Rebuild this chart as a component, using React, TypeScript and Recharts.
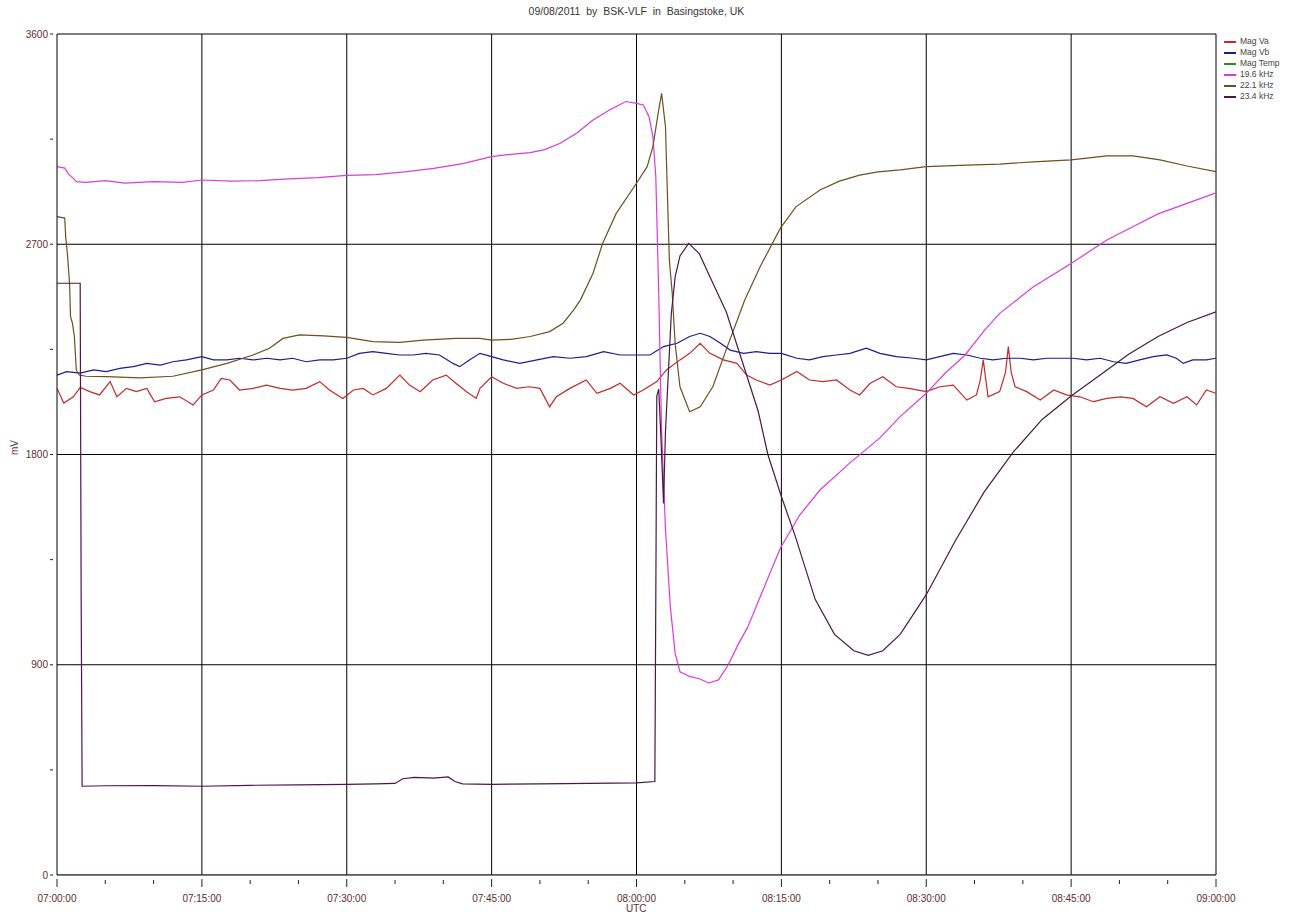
import React from 'react';
import { LineChart, Line, XAxis, YAxis, ReferenceLine } from 'recharts';

type Pt = [number, number];

// minutes after 07:00 UTC, mV
const magVa: Pt[] = [
  [0, 2083], [0.7, 2020], [1.7, 2047], [2.4, 2087], [3.4, 2069], [4.4, 2055], [5.5, 2112], [6.2, 2047],
  [7.2, 2083], [8.2, 2069], [9.3, 2083], [10.1, 2026], [11.3, 2040], [12.7, 2047], [14.1, 2012], [15, 2055],
  [16.2, 2076], [17, 2126], [17.9, 2119], [18.9, 2076], [20.3, 2083], [21.7, 2097], [23.1, 2083], [24.4, 2076],
  [25.8, 2083], [27.2, 2112], [28.2, 2076], [29.6, 2040], [30.7, 2076], [31.7, 2083], [32.7, 2055], [34.1, 2083],
  [35.5, 2140], [36.5, 2097], [37.6, 2069], [38.9, 2119], [40.3, 2140], [41.3, 2105], [42.4, 2069], [43.4, 2040],
  [43.8, 2083], [45, 2133], [46.2, 2105], [47.6, 2083], [48.9, 2090], [50, 2083], [51, 2004], [51.7, 2047],
  [53.1, 2083], [54.8, 2119], [55.9, 2062], [57.3, 2083], [58.3, 2105], [59.7, 2055], [60.7, 2076], [62.1, 2112],
  [63.1, 2162], [64.5, 2205], [65.5, 2233], [66.6, 2276], [67.6, 2233], [69, 2205], [70.4, 2190], [71.4, 2140],
  [72.4, 2119], [73.8, 2097], [75, 2119], [76.6, 2155], [77.9, 2119], [79.3, 2112], [80.7, 2119], [82.1, 2076],
  [83.1, 2055], [84.2, 2105], [85.5, 2133], [86.9, 2090], [88.2, 2083], [90, 2069], [91.4, 2090], [92.8, 2097],
  [94.2, 2033], [95.2, 2055], [95.6, 2120], [95.9, 2205], [96.2, 2110], [96.4, 2047], [97.6, 2069], [98.2, 2150],
  [98.5, 2262], [98.8, 2150], [99.2, 2090], [100.4, 2069], [101.8, 2033], [103.2, 2076], [104.5, 2055], [105.9, 2047],
  [107.3, 2026], [108.7, 2040], [110.1, 2047], [111.4, 2040], [112.8, 2004], [114.2, 2047], [115.6, 2019], [117, 2047],
  [118, 2012], [119, 2076], [120, 2062],
];

const magVb: Pt[] = [
  [0, 2140], [1, 2155], [2.4, 2148], [3.8, 2162], [5.1, 2155], [6.5, 2169], [7.9, 2176], [9.3, 2190],
  [10.7, 2183], [12, 2197], [13.4, 2205], [15, 2219], [16.2, 2205], [17.6, 2205], [18.9, 2212], [20.3, 2205],
  [21.7, 2212], [23.1, 2205], [24.4, 2212], [25.8, 2197], [27.2, 2205], [28.6, 2205], [30, 2212], [31.3, 2233],
  [32.7, 2240], [34.1, 2233], [35.5, 2226], [36.9, 2226], [38.2, 2233], [39.6, 2226], [41, 2190], [41.7, 2176],
  [42.7, 2205], [43.8, 2233], [45, 2219], [46.2, 2205], [47.9, 2190], [49.7, 2205], [51.4, 2219], [53.1, 2212],
  [54.8, 2219], [56.6, 2240], [58.3, 2226], [60, 2226], [61.4, 2226], [62.8, 2262], [64.2, 2276], [65.5, 2305],
  [66.6, 2319], [67.6, 2305], [68.7, 2276], [69.7, 2247], [71.1, 2233], [72.4, 2240], [73.8, 2233], [75, 2233],
  [76.6, 2212], [77.9, 2205], [79.3, 2219], [80.7, 2226], [82.1, 2233], [83.8, 2255], [85.2, 2233], [86.9, 2219],
  [88.7, 2212], [90, 2205], [91.4, 2219], [92.8, 2233], [94.2, 2226], [95.6, 2212], [96.9, 2205], [98.3, 2212],
  [99.7, 2212], [101.1, 2205], [102.5, 2212], [103.9, 2212], [105.2, 2212], [106.6, 2205], [108, 2212], [109.4, 2197],
  [110.7, 2190], [112.1, 2205], [113.5, 2219], [114.9, 2226], [115.9, 2212], [116.6, 2190], [117.6, 2205], [119, 2205],
  [120, 2212],
];

const magTemp: Pt[] = [[0, 0], [120, 0]];

const khz196: Pt[] = [
  [0, 3032], [0.8, 3026], [1.2, 3000], [1.7, 2982], [2, 2968], [3, 2965], [5, 2972], [7, 2962],
  [10, 2968], [13, 2965], [15, 2975], [18, 2970], [21, 2972], [24, 2980], [27, 2985], [30, 2995],
  [33, 2998], [36, 3010], [39, 3025], [42, 3045], [45, 3075], [47, 3085], [49, 3092], [50.5, 3105],
  [52.1, 3132], [53.8, 3175], [55.5, 3232], [57.2, 3275], [58.9, 3311], [60, 3303], [60.7, 3296], [61.3, 3246],
  [61.7, 3161], [62, 2989], [62.3, 2490], [62.6, 1900], [63, 1480], [63.5, 1150], [64, 950], [64.5, 870],
  [65.5, 850], [66.5, 840], [67.5, 822], [68.5, 835], [69.5, 900], [70.5, 985], [71.5, 1060], [72.8, 1190],
  [74.9, 1400], [76.9, 1541], [79, 1648], [82.1, 1764], [85.2, 1871], [87.3, 1962], [90, 2062], [92, 2150],
  [94, 2225], [96, 2330], [97.6, 2404], [101.1, 2518], [105, 2618], [108.7, 2718], [112.1, 2790], [114, 2830],
  [116, 2860], [118, 2890], [120, 2920],
];

const khz221: Pt[] = [
  [0, 2818], [0.8, 2812], [0.9, 2732], [1.1, 2647], [1.3, 2533], [1.4, 2390], [1.6, 2362], [1.8, 2304],
  [2, 2162], [2.3, 2140], [3, 2135], [5.1, 2133], [8.6, 2128], [12, 2135], [15, 2162], [17.6, 2190],
  [20.3, 2226], [22, 2255], [23.4, 2297], [25.1, 2312], [27.6, 2308], [30, 2301], [32.7, 2283], [35.5, 2280],
  [37.9, 2290], [41.3, 2297], [43.8, 2297], [45, 2290], [47, 2293], [49, 2305], [51, 2326], [52.4, 2362],
  [53.5, 2419], [54.2, 2462], [55.5, 2576], [56.5, 2704], [57.9, 2832], [60, 2961], [61.1, 3032], [61.7, 3118],
  [62.3, 3275], [62.6, 3346], [63, 3203], [63.2, 2918], [63.4, 2633], [63.7, 2490], [64, 2276], [64.5, 2090],
  [65.5, 1983], [66.6, 2004], [67.9, 2090], [69.3, 2250], [71.2, 2460], [72.8, 2604], [74.9, 2769], [76.5, 2860],
  [79, 2932], [81, 2970], [83.1, 2996], [85, 3010], [87.3, 3018], [90, 3032], [94.2, 3039], [97.6, 3043],
  [101.1, 3053], [105, 3061], [108.7, 3078], [111.4, 3078], [114.2, 3061], [117, 3035], [120, 3011],
];

const khz234: Pt[] = [
  [0, 2533], [2.4, 2533], [2.5, 1200], [2.6, 380], [5, 382], [10, 383], [15, 380], [20, 384],
  [25, 386], [30, 388], [33, 390], [35, 392], [35.8, 412], [37, 418], [39, 415], [40.5, 420],
  [41.2, 400], [42, 390], [45, 388], [50, 390], [55, 392], [60, 394], [61.9, 400], [62, 1200],
  [62.1, 2050], [62.3, 2080], [62.5, 1900], [62.8, 1590], [63, 1900], [63.3, 2150], [63.6, 2400], [64, 2560],
  [64.5, 2650], [65.4, 2704], [66.5, 2660], [67.6, 2561], [69.3, 2410], [70.7, 2230], [72.6, 1985], [73.6, 1800],
  [75, 1620], [76.4, 1455], [78.5, 1180], [80.5, 1030], [82.5, 960], [84, 940], [85.5, 960], [87.3, 1030],
  [90, 1200], [93, 1430], [96, 1640], [99, 1810], [102, 1950], [105, 2050], [108, 2140], [111, 2230],
  [114, 2305], [117, 2365], [120, 2411],
];

const xTicks = [0, 5, 10, 15, 20, 25, 30, 35, 40, 45, 50, 55, 60, 65, 70, 75, 80, 85, 90, 95, 100, 105, 110, 115, 120];
const xLabels: Record<number, string> = {
  0: '07:00:00', 15: '07:15:00', 30: '07:30:00', 45: '07:45:00', 60: '08:00:00',
  75: '08:15:00', 90: '08:30:00', 105: '08:45:00', 120: '09:00:00',
};
const yTicks = [0, 450, 900, 1350, 1800, 2250, 2700, 3150, 3600];
const yLabels = [0, 900, 1800, 2700, 3600];
const gridX = [15, 30, 45, 60, 75, 90, 105, 120];
const gridY = [900, 1800, 2700, 3600];

const series = [
  { name: 'Mag Va', data: magVa, color: '#c42a2a' },
  { name: 'Mag Vb', data: magVb, color: '#1c1c96' },
  { name: 'Mag Temp', data: magTemp, color: '#2f8a2f' },
  { name: '19.6 kHz', data: khz196, color: '#de3ade' },
  { name: '22.1 kHz', data: khz221, color: '#6e5020' },
  { name: '23.4 kHz', data: khz234, color: '#4a1848' },
];

const font = '"Liberation Sans", Arial, sans-serif';
const labelColor = '#5e2c2c';

function XTick(props: any) {
  const { x, y, payload } = props;
  const label = xLabels[payload.value];
  const major = label !== undefined;
  return (
    <g>
      <line x1={x} x2={x} y1={y + (major ? 4 : 5)} y2={y + (major ? 12 : 9)} stroke="#222" strokeWidth={1} />
      {major && (
        <text x={x} y={y + 27} textAnchor="middle" fontSize={10} fill={labelColor} fontFamily={font}>
          {label}
        </text>
      )}
    </g>
  );
}

function YTick(props: any) {
  const { x, y, payload } = props;
  const major = yLabels.includes(payload.value);
  return (
    <g>
      <line x1={x - 7} x2={x - 4} y1={y} y2={y} stroke="#222" strokeWidth={1} />
      {major && (
        <text x={x - 9} y={y + 3.5} textAnchor="end" fontSize={10} fill={labelColor} fontFamily={font}>
          {payload.value}
        </text>
      )}
    </g>
  );
}

export default function App() {
  return (
    <div style={{ position: 'absolute', left: 0, top: 0, width: 1291, height: 918, background: '#fff', fontFamily: font }}>
      <div style={{ position: 'absolute', left: 0, top: 5, width: 1273, textAlign: 'center', fontSize: 10.5, color: '#333', whiteSpace: 'pre' }}>
        {'09/08/2011  by  BSK-VLF  in  Basingstoke, UK'}
      </div>
      <LineChart width={1291} height={918} margin={{ top: 34, right: 75, bottom: 3, left: 12 }}>
        <XAxis
          type="number"
          dataKey="t"
          domain={[0, 120]}
          ticks={xTicks}
          interval={0}
          height={40}
          tickSize={0}
          tickMargin={0}
          tick={<XTick />}
          axisLine={{ stroke: '#000' }}
          allowDataOverflow
        />
        <YAxis
          type="number"
          dataKey="v"
          domain={[0, 3600]}
          ticks={yTicks}
          interval={0}
          width={45}
          tickSize={0}
          tickMargin={0}
          tick={<YTick />}
          axisLine={{ stroke: '#000' }}
          allowDataOverflow
        />
        {gridY.map((v) => (
          <ReferenceLine key={'gy' + v} y={v} stroke="#000" strokeWidth={1} ifOverflow="extendDomain" />
        ))}
        {gridX.map((v) => (
          <ReferenceLine key={'gx' + v} x={v} stroke="#000" strokeWidth={1} ifOverflow="extendDomain" />
        ))}
        {series.map((s) => (
          <Line
            key={s.name}
            name={s.name}
            data={s.data.map(([t, v]) => ({ t, v }))}
            dataKey="v"
            type="linear"
            stroke={s.color}
            strokeWidth={1.2}
            dot={false}
            activeDot={false}
            isAnimationActive={false}
          />
        ))}
      </LineChart>
      <div style={{ position: 'absolute', left: 626, top: 903, fontSize: 10, color: labelColor }}>UTC</div>
      <div
        style={{
          position: 'absolute', left: 7, top: 442, fontSize: 10, color: labelColor,
          transform: 'rotate(-90deg)', transformOrigin: 'center',
        }}
      >
        mV
      </div>
      <div style={{ position: 'absolute', left: 1224, top: 36 }}>
        {series.map((s) => (
          <div key={s.name} style={{ display: 'flex', alignItems: 'center', height: 11 }}>
            <div style={{ width: 12, height: 2, background: s.color, marginRight: 4 }} />
            <span style={{ fontSize: 8.5, color: '#444', lineHeight: '11px' }}>{s.name}</span>
          </div>
        ))}
      </div>
    </div>
  );
}
